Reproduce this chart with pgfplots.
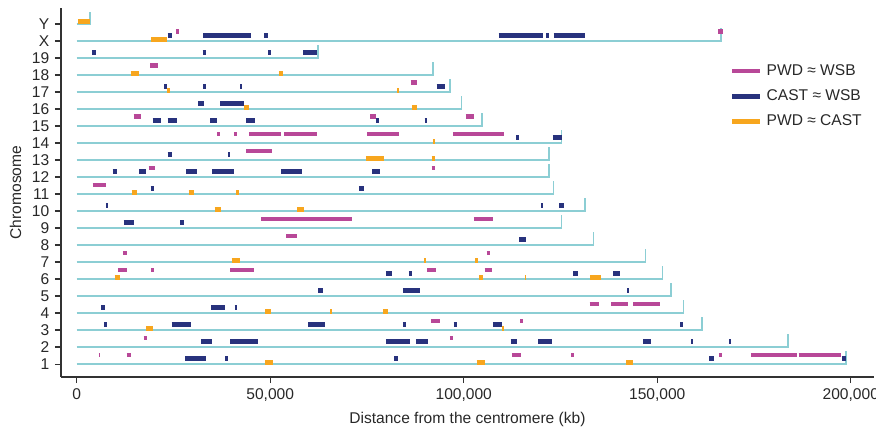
\documentclass[border=0pt]{standalone}
\usepackage{fontspec}
\setmainfont{Liberation Sans}
\usepackage{pgfplots}
\pgfplotsset{compat=1.18}

\definecolor{pwdwsb}{RGB}{184,72,152}
\definecolor{castwsb}{RGB}{40,50,125}
\definecolor{pwdcast}{RGB}{247,166,30}
\definecolor{chrline}{RGB}{140,206,212}
\definecolor{axisgray}{RGB}{50,50,50}

\begin{document}
\fontsize{7.8}{9.4}\selectfont
\begin{tikzpicture}
\begin{axis}[
    name=ax,
    scale only axis,
    width=407.5pt, height=185pt,
    xmin=-4100, xmax=206000,
    ymin=0.24, ymax=21.94,
    axis x line*=bottom, axis y line*=left,
    axis line style={axisgray, line width=0.7pt},
    tick align=outside, major tick length=3pt,
    tick style={axisgray, line width=0.7pt},
    xtick={0,50000,100000,150000,200000},
    scaled x ticks=false,
    xticklabel style={/pgf/number format/.cd, fixed, 1000 sep={,}, assume math mode=true},
    ytick={1,2,3,4,5,6,7,8,9,10,11,12,13,14,15,16,17,18,19,20,21},
    yticklabels={1,2,3,4,5,6,7,8,9,10,11,12,13,14,15,16,17,18,19,X,Y},
    tick label style={font=\fontsize{7.8}{9.4}\selectfont, text=axisgray!80!black},
    label style={font=\fontsize{7.8}{9.4}\selectfont, text=axisgray!80!black},
    xlabel={Distance from the centromere (kb)},
    ylabel={Chromosome},
    unbounded coords=jump,
    legend style={draw=none, fill=none, at={(0.815,0.87)}, anchor=north west,
      font=\fontsize{7.8}{9.4}\selectfont, row sep=2pt, text=axisgray!80!black},
    legend cell align=left,
    legend image code/.code={\draw[#1, line width=2.4pt] (0pt,0pt) -- (14pt,0pt);},
]
% chromosome lines with bracket at the telomere end
\addplot[chrline, line width=0.8pt, forget plot] coordinates {
(0,21) (3400,21) (3400,21.7) (nan,nan)
(0,20) (166500,20) (166500,20.75) (nan,nan)
(0,19) (62400,19) (62400,19.75) (nan,nan)
(0,18) (92000,18) (92000,18.75) (nan,nan)
(0,17) (96400,17) (96400,17.75) (nan,nan)
(0,16) (99400,16) (99400,16.75) (nan,nan)
(0,15) (104700,15) (104700,15.75) (nan,nan)
(0,14) (125300,14) (125300,14.75) (nan,nan)
(0,13) (122000,13) (122000,13.75) (nan,nan)
(0,12) (122000,12) (122000,12.75) (nan,nan)
(0,11) (123200,11) (123200,11.75) (nan,nan)
(0,10) (131400,10) (131400,10.75) (nan,nan)
(0,9) (125300,9) (125300,9.75) (nan,nan)
(0,8) (133500,8) (133500,8.75) (nan,nan)
(0,7) (147000,7) (147000,7.75) (nan,nan)
(0,6) (151300,6) (151300,6.75) (nan,nan)
(0,5) (153600,5) (153600,5.75) (nan,nan)
(0,4) (156800,4) (156800,4.75) (nan,nan)
(0,3) (161600,3) (161600,3.75) (nan,nan)
(0,2) (183800,2) (183800,2.75) (nan,nan)
(0,1) (198700,1) (198700,1.75)
};
% PWD ~ WSB
\addplot[pwdwsb, line width=2.2pt, line cap=butt] coordinates {
(25600,20.55) (26400,20.55) (nan,nan)
(165800,20.55) (167000,20.55) (nan,nan)
(19000,18.55) (20900,18.55) (nan,nan)
(86300,17.55) (87900,17.55) (nan,nan)
(14700,15.55) (16700,15.55) (nan,nan)
(75800,15.55) (77300,15.55) (nan,nan)
(100500,15.55) (102600,15.55) (nan,nan)
(36300,14.55) (37100,14.55) (nan,nan)
(40600,14.55) (41400,14.55) (nan,nan)
(44600,14.55) (52800,14.55) (nan,nan)
(53600,14.55) (62100,14.55) (nan,nan)
(75000,14.55) (83200,14.55) (nan,nan)
(97200,14.55) (110300,14.55) (nan,nan)
(43800,13.55) (50500,13.55) (nan,nan)
(18600,12.55) (20100,12.55) (nan,nan)
(91700,12.55) (92500,12.55) (nan,nan)
(4100,11.55) (7500,11.55) (nan,nan)
(47700,9.55) (71100,9.55) (nan,nan)
(102600,9.55) (107500,9.55) (nan,nan)
(54100,8.55) (57000,8.55) (nan,nan)
(11900,7.55) (12900,7.55) (nan,nan)
(105900,7.55) (106700,7.55) (nan,nan)
(10600,6.55) (13100,6.55) (nan,nan)
(19200,6.55) (20000,6.55) (nan,nan)
(39700,6.55) (45900,6.55) (nan,nan)
(90500,6.55) (92800,6.55) (nan,nan)
(105400,6.55) (107200,6.55) (nan,nan)
(132500,4.55) (135000,4.55) (nan,nan)
(138100,4.55) (142500,4.55) (nan,nan)
(143800,4.55) (150800,4.55) (nan,nan)
(91500,3.55) (93800,3.55) (nan,nan)
(114600,3.55) (115400,3.55) (nan,nan)
(17300,2.55) (18100,2.55) (nan,nan)
(96400,2.55) (97200,2.55) (nan,nan)
(5700,1.55) (6100,1.55) (nan,nan)
(12900,1.55) (13900,1.55) (nan,nan)
(112400,1.55) (114700,1.55) (nan,nan)
(127800,1.55) (128400,1.55) (nan,nan)
(165900,1.55) (166600,1.55) (nan,nan)
(174200,1.55) (186200,1.55) (nan,nan)
(186500,1.55) (197400,1.55)
};
\addlegendentry{PWD ≈ WSB}
% CAST ~ WSB
\addplot[castwsb, line width=2.2pt, line cap=butt] coordinates {
(23500,20.33) (24700,20.33) (nan,nan)
(32700,20.33) (45100,20.33) (nan,nan)
(48500,20.33) (49300,20.33) (nan,nan)
(109000,20.33) (120600,20.33) (nan,nan)
(121300,20.33) (122000,20.33) (nan,nan)
(123200,20.33) (131400,20.33) (nan,nan)
(3900,19.33) (4900,19.33) (nan,nan)
(32500,19.33) (33500,19.33) (nan,nan)
(49500,19.33) (50300,19.33) (nan,nan)
(58500,19.33) (62100,19.33) (nan,nan)
(22600,17.33) (23200,17.33) (nan,nan)
(32700,17.33) (33300,17.33) (nan,nan)
(42200,17.33) (42800,17.33) (nan,nan)
(93000,17.33) (95100,17.33) (nan,nan)
(31400,16.33) (33000,16.33) (nan,nan)
(37100,16.33) (43300,16.33) (nan,nan)
(19600,15.33) (21900,15.33) (nan,nan)
(23500,15.33) (26000,15.33) (nan,nan)
(34500,15.33) (36300,15.33) (nan,nan)
(43800,15.33) (46100,15.33) (nan,nan)
(77300,15.33) (78000,15.33) (nan,nan)
(89900,15.33) (90600,15.33) (nan,nan)
(113500,14.33) (114400,14.33) (nan,nan)
(123000,14.33) (125300,14.33) (nan,nan)
(23500,13.33) (24500,13.33) (nan,nan)
(39200,13.33) (39700,13.33) (nan,nan)
(9300,12.33) (10300,12.33) (nan,nan)
(16200,12.33) (18000,12.33) (nan,nan)
(28300,12.33) (31200,12.33) (nan,nan)
(35000,12.33) (40700,12.33) (nan,nan)
(52800,12.33) (58200,12.33) (nan,nan)
(76300,12.33) (78300,12.33) (nan,nan)
(19100,11.33) (19900,11.33) (nan,nan)
(72900,11.33) (74200,11.33) (nan,nan)
(7500,10.33) (8100,10.33) (nan,nan)
(119900,10.33) (120400,10.33) (nan,nan)
(124700,10.33) (125800,10.33) (nan,nan)
(12100,9.33) (14900,9.33) (nan,nan)
(26800,9.33) (27800,9.33) (nan,nan)
(114400,8.33) (116000,8.33) (nan,nan)
(79900,6.33) (81400,6.33) (nan,nan)
(85800,6.33) (86600,6.33) (nan,nan)
(128300,6.33) (129600,6.33) (nan,nan)
(138600,6.33) (140400,6.33) (nan,nan)
(62400,5.33) (63700,5.33) (nan,nan)
(84300,5.33) (88600,5.33) (nan,nan)
(142200,5.33) (142800,5.33) (nan,nan)
(6400,4.33) (7200,4.33) (nan,nan)
(34800,4.33) (38400,4.33) (nan,nan)
(40800,4.33) (41300,4.33) (nan,nan)
(7000,3.33) (7800,3.33) (nan,nan)
(24500,3.33) (29400,3.33) (nan,nan)
(59800,3.33) (64200,3.33) (nan,nan)
(84300,3.33) (85000,3.33) (nan,nan)
(97400,3.33) (98200,3.33) (nan,nan)
(107500,3.33) (109800,3.33) (nan,nan)
(155900,3.33) (156600,3.33) (nan,nan)
(32200,2.33) (35000,2.33) (nan,nan)
(39700,2.33) (46900,2.33) (nan,nan)
(79900,2.33) (86100,2.33) (nan,nan)
(87600,2.33) (90700,2.33) (nan,nan)
(112100,2.33) (113700,2.33) (nan,nan)
(119300,2.33) (122700,2.33) (nan,nan)
(146400,2.33) (148500,2.33) (nan,nan)
(158800,2.33) (159300,2.33) (nan,nan)
(168600,2.33) (169100,2.33) (nan,nan)
(28100,1.33) (33500,1.33) (nan,nan)
(38400,1.33) (39200,1.33) (nan,nan)
(82000,1.33) (83000,1.33) (nan,nan)
(163400,1.33) (164700,1.33) (nan,nan)
(197700,1.33) (198700,1.33)
};
\addlegendentry{CAST ≈ WSB}
% PWD ~ CAST
\addplot[pwdcast, line width=2.4pt, line cap=butt] coordinates {
(300,21.13) (3300,21.13) (nan,nan)
(19300,20.08) (23200,20.08) (nan,nan)
(13900,18.08) (16200,18.08) (nan,nan)
(52200,18.08) (53200,18.08) (nan,nan)
(23200,17.08) (24000,17.08) (nan,nan)
(82800,17.08) (83300,17.08) (nan,nan)
(43300,16.08) (44600,16.08) (nan,nan)
(86600,16.08) (87900,16.08) (nan,nan)
(92000,14.08) (92600,14.08) (nan,nan)
(74700,13.08) (79400,13.08) (nan,nan)
(91700,13.08) (92500,13.08) (nan,nan)
(14200,11.08) (15500,11.08) (nan,nan)
(28900,11.08) (30400,11.08) (nan,nan)
(41200,11.08) (42000,11.08) (nan,nan)
(35600,10.08) (37400,10.08) (nan,nan)
(57000,10.08) (58800,10.08) (nan,nan)
(40000,7.08) (42300,7.08) (nan,nan)
(89700,7.08) (90300,7.08) (nan,nan)
(103000,7.08) (103600,7.08) (nan,nan)
(9800,6.08) (11100,6.08) (nan,nan)
(103900,6.08) (104900,6.08) (nan,nan)
(115800,6.08) (116200,6.08) (nan,nan)
(132700,6.08) (135500,6.08) (nan,nan)
(48700,4.08) (50300,4.08) (nan,nan)
(65500,4.08) (66000,4.08) (nan,nan)
(79100,4.08) (80400,4.08) (nan,nan)
(18000,3.08) (19600,3.08) (nan,nan)
(109800,3.08) (110300,3.08) (nan,nan)
(48700,1.08) (50800,1.08) (nan,nan)
(103300,1.08) (105400,1.08) (nan,nan)
(142000,1.08) (143800,1.08)
};
\addlegendentry{PWD ≈ CAST}
\end{axis}
\pgfresetboundingbox
\path[use as bounding box] ([shift={(-30.5pt,-27.5pt)}]ax.south west) rectangle ([shift={(1pt,4pt)}]ax.north east);
\end{tikzpicture}
\end{document}
